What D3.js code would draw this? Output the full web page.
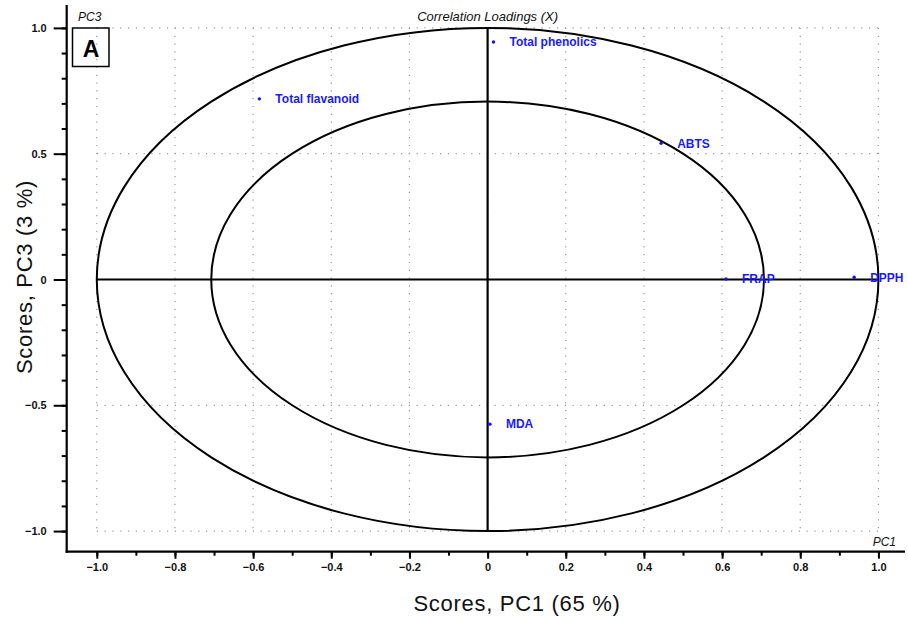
<!DOCTYPE html>
<html>
<head>
<meta charset="utf-8">
<script src="https://cdn.jsdelivr.net/npm/d3@7"></script>
<style>
  html, body { margin: 0; padding: 0; background: #fff; }
  svg { display: block; font-family: "Liberation Sans", Arial, sans-serif; }
</style>
</head>
<body>
<svg id="chart" width="908" height="621"></svg>
<script>
// Correlation loadings, PC1 vs PC3
const variables = ["Total phenolics", "Total flavanoid", "ABTS", "FRAP", "DPPH", "MDA"];
const pc1Loadings = [0.015, -0.584, 0.444, 0.610, 0.938, 0.006];
const pc3Loadings = [0.944, 0.718, 0.541, 0.002, 0.009, -0.575];

const xMajorTicks = [-1.0, -0.8, -0.6, -0.4, -0.2, 0, 0.2, 0.4, 0.6, 0.8, 1.0];
const yMajorTicks = [-1.0, -0.5, 0, 0.5, 1.0];
const minorTicks = d3.range(-10, 11).map(i => i / 10);
// explained variance radii: 100 % and 50 %
const circleRadii = [1, Math.SQRT1_2];

const svg = d3.select("#chart");
const plot = { left: 66.7, right: 905, top: 5, bottom: 551.7 };

const x = d3.scaleLinear().domain([-1.077, 1.068]).range([plot.left, plot.right]);
const y = d3.scaleLinear().domain([-1.082, 1.091]).range([plot.bottom, plot.top]);

const fmt = v => v === 0 ? "0" : d3.format(".1f")(v);

// dotted grid inside the unit square
const grid = svg.append("g").attr("stroke", "#9a9a9a").attr("stroke-width", 1.2)
  .attr("stroke-dasharray", "1.2,6.6").attr("fill", "none");
grid.selectAll(".gv").data(xMajorTicks).join("line")
  .attr("x1", d => x(d)).attr("x2", d => x(d))
  .attr("y1", y(1)).attr("y2", y(-1));
grid.selectAll(".gh").data(yMajorTicks).join("line")
  .attr("x1", x(-1)).attr("x2", x(1))
  .attr("y1", d => y(d)).attr("y2", d => y(d));

// correlation ellipses
svg.append("g").selectAll("ellipse").data(circleRadii).join("ellipse")
  .attr("cx", x(0)).attr("cy", y(0))
  .attr("rx", d => x(d) - x(0)).attr("ry", d => y(0) - y(d))
  .attr("fill", "none").attr("stroke", "#000").attr("stroke-width", 2);

// origin cross
svg.append("line").attr("x1", x(-1)).attr("x2", x(1)).attr("y1", y(0)).attr("y2", y(0))
  .attr("stroke", "#000").attr("stroke-width", 2.2);
svg.append("line").attr("x1", x(0)).attr("x2", x(0)).attr("y1", y(1)).attr("y2", y(-1))
  .attr("stroke", "#000").attr("stroke-width", 2.2);

// bottom axis
const xAxis = svg.append("g").attr("transform", `translate(0,${plot.bottom})`);
xAxis.append("g").call(d3.axisBottom(x).tickValues(minorTicks).tickSize(4).tickFormat(""))
  .call(g => g.select(".domain").remove())
  .call(g => g.selectAll("line").attr("stroke-width", 2));
xAxis.append("g").call(d3.axisBottom(x).tickValues(xMajorTicks).tickSize(7).tickPadding(5).tickFormat(fmt))
  .call(g => g.select(".domain").remove())
  .call(g => g.selectAll("line").attr("stroke-width", 2))
  .call(g => g.selectAll("text").attr("font-size", 11).attr("font-weight", "bold")
    .attr("font-family", "Liberation Sans, Arial, sans-serif").attr("fill", "#111"));
xAxis.append("line").attr("x1", plot.left - 1).attr("x2", plot.right).attr("stroke", "#000").attr("stroke-width", 2.2);

// left axis
const yAxis = svg.append("g").attr("transform", `translate(${plot.left},0)`);
yAxis.append("g").call(d3.axisLeft(y).tickValues(minorTicks).tickSize(5).tickFormat(""))
  .call(g => g.select(".domain").remove())
  .call(g => g.selectAll("line").attr("stroke-width", 2));
yAxis.append("g").call(d3.axisLeft(y).tickValues(yMajorTicks).tickSize(13).tickPadding(7).tickFormat(fmt))
  .call(g => g.select(".domain").remove())
  .call(g => g.selectAll("line").attr("stroke-width", 2))
  .call(g => g.selectAll("text").attr("font-size", 11).attr("font-weight", "bold")
    .attr("font-family", "Liberation Sans, Arial, sans-serif").attr("fill", "#111"));
yAxis.append("line").attr("y1", plot.top).attr("y2", plot.bottom + 1).attr("stroke", "#000").attr("stroke-width", 2.2);

// loadings
const pts = svg.append("g");
pts.selectAll("circle").data(variables).join("circle")
  .attr("cx", (d, i) => x(pc1Loadings[i])).attr("cy", (d, i) => y(pc3Loadings[i]))
  .attr("r", 1.7).attr("fill", "#1010ff");
pts.selectAll("text").data(variables).join("text")
  .attr("x", (d, i) => x(pc1Loadings[i]) + 16).attr("y", (d, i) => y(pc3Loadings[i]))
  .attr("dy", "0.36em").attr("font-size", 12).attr("font-weight", "bold")
  .attr("fill", "#1a1aff").text(d => d);

// panel titles
svg.append("text").attr("x", x(0)).attr("y", 20.5).attr("text-anchor", "middle")
  .attr("font-size", 13).attr("font-style", "italic").attr("fill", "#111")
  .text("Correlation Loadings (X)");
svg.append("text").attr("x", 78).attr("y", 20.5).attr("font-size", 12)
  .attr("font-style", "italic").attr("fill", "#111").text("PC3");
svg.append("text").attr("x", 896).attr("y", 546).attr("text-anchor", "end").attr("font-size", 12)
  .attr("font-style", "italic").attr("fill", "#111").text("PC1");

// panel letter
svg.append("rect").attr("x", 72.5).attr("y", 28).attr("width", 36.5).attr("height", 38.5)
  .attr("fill", "none").attr("stroke", "#000").attr("stroke-width", 1.5);
svg.append("text").attr("x", 91).attr("y", 56.5).attr("text-anchor", "middle")
  .attr("font-size", 23).attr("font-weight", "bold").text("A");

// axis titles
svg.append("text").attr("x", 517).attr("y", 611).attr("text-anchor", "middle")
  .attr("font-size", 22).attr("letter-spacing", 0.7).attr("fill", "#111").text("Scores, PC1 (65 %)");
svg.append("text").attr("transform", "translate(32,277) rotate(-90)").attr("text-anchor", "middle")
  .attr("font-size", 22).attr("letter-spacing", 0.7).attr("fill", "#111").text("Scores, PC3 (3 %)");
</script>
</body>
</html>
